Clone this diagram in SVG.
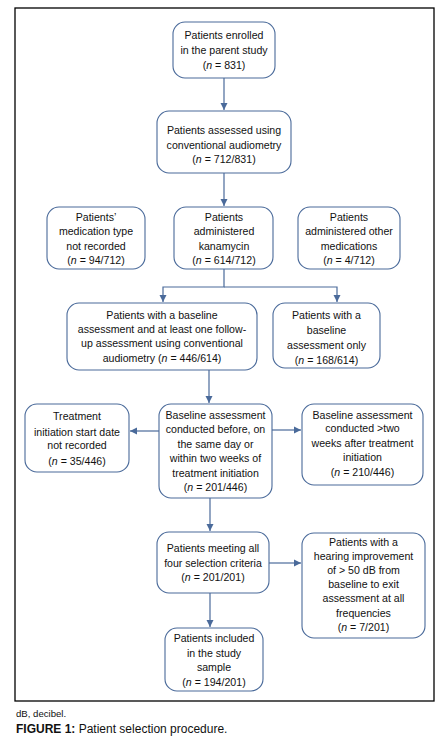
<svg xmlns="http://www.w3.org/2000/svg" width="448" height="744" viewBox="0 0 448 744">
<style>
.b{fill:#fff;stroke:#4a6a9a;stroke-width:1.1}
.t{font-family:"Liberation Sans",Arial,sans-serif;font-size:10.6px;fill:#111;text-anchor:middle}
.c{stroke:#4a6a9a;stroke-width:1.2;fill:none}
.cap{font-family:"Liberation Sans",Arial,sans-serif;fill:#111}
</style>
<defs>
<marker id="a" markerWidth="8" markerHeight="8" refX="7" refY="4" orient="auto" markerUnits="userSpaceOnUse">
<path d="M0,0.5 L7,4 L0,7.5 Z" fill="#4a6a9a"/>
</marker>
</defs>
<rect x="15" y="8" width="419" height="693" fill="none" stroke="#000" stroke-width="1.3"/>
<g id="connectors">
<line class="c" x1="224" y1="78" x2="224" y2="110" marker-end="url(#a)"/>
<line class="c" x1="224" y1="173" x2="224" y2="206" marker-end="url(#a)"/>
<polyline class="c" points="224,269 224,287 163,287 163,302" marker-end="url(#a)"/>
<polyline class="c" points="224,287 337,287 337,302" marker-end="url(#a)"/>
<line class="c" x1="209" y1="370" x2="209" y2="403" marker-end="url(#a)"/>
<line class="c" x1="159" y1="431" x2="130" y2="431" marker-end="url(#a)"/>
<line class="c" x1="272" y1="430" x2="301" y2="430" marker-end="url(#a)"/>
<line class="c" x1="210" y1="498" x2="210" y2="531" marker-end="url(#a)"/>
<line class="c" x1="269" y1="563" x2="301" y2="563" marker-end="url(#a)"/>
<line class="c" x1="210" y1="593" x2="210" y2="627" marker-end="url(#a)"/>
</g>
<g id="n1"><rect class="b" x="173" y="22" width="102" height="56" rx="12"/>
<text class="t" x="224" y="39">Patients enrolled</text><text class="t" x="224" y="54">in the parent study</text><text class="t" x="224" y="69">(<tspan font-style="italic">n</tspan> = 831)</text></g>
<g id="n2"><rect class="b" x="157" y="111" width="134" height="62" rx="12"/>
<text class="t" x="224" y="134">Patients assessed using</text><text class="t" x="224" y="149">conventional audiometry</text><text class="t" x="224" y="163">(<tspan font-style="italic">n</tspan> = 712/831)</text></g>
<g id="n3"><rect class="b" x="47" y="207" width="98" height="62" rx="12"/>
<text class="t" x="96" y="221">Patients’</text><text class="t" x="96" y="235">medication type</text><text class="t" x="96" y="250">not recorded</text><text class="t" x="96" y="264">(<tspan font-style="italic">n</tspan> = 94/712)</text></g>
<g id="n4"><rect class="b" x="174" y="207" width="99" height="62" rx="12"/>
<text class="t" x="224" y="221">Patients</text><text class="t" x="224" y="235">administered</text><text class="t" x="224" y="250">kanamycin</text><text class="t" x="224" y="264">(<tspan font-style="italic">n</tspan> = 614/712)</text></g>
<g id="n5"><rect class="b" x="298" y="207" width="102" height="62" rx="12"/>
<text class="t" x="349" y="221">Patients</text><text class="t" x="349" y="235">administered other</text><text class="t" x="349" y="250">medications</text><text class="t" x="349" y="264">(<tspan font-style="italic">n</tspan> = 4/712)</text></g>
<g id="n6"><rect class="b" x="67" y="303" width="190" height="67" rx="12"/>
<text class="t" x="162" y="319">Patients with a baseline</text><text class="t" x="162" y="333">assessment and at least one follow-</text><text class="t" x="162" y="347">up assessment using conventional</text><text class="t" x="162" y="362">audiometry (<tspan font-style="italic">n</tspan> = 446/614)</text></g>
<g id="n7"><rect class="b" x="273" y="303" width="107" height="65" rx="12"/>
<text class="t" x="326.5" y="319">Patients with a</text><text class="t" x="326.5" y="334">baseline</text><text class="t" x="326.5" y="349">assessment only</text><text class="t" x="326.5" y="364">(<tspan font-style="italic">n</tspan> = 168/614)</text></g>
<g id="n8"><rect class="b" x="25" y="404" width="104" height="68" rx="12"/>
<text class="t" x="77" y="420">Treatment</text><text class="t" x="77" y="436">initiation start date</text><text class="t" x="77" y="449">not recorded</text><text class="t" x="77" y="465">(<tspan font-style="italic">n</tspan> = 35/446)</text></g>
<g id="n9"><rect class="b" x="159" y="404" width="113" height="94" rx="12"/>
<text class="t" x="215.5" y="419">Baseline assessment</text><text class="t" x="215.5" y="433">conducted before, on</text><text class="t" x="215.5" y="448">the same day or</text><text class="t" x="215.5" y="462">within two weeks of</text><text class="t" x="215.5" y="477">treatment initiation</text><text class="t" x="215.5" y="491">(<tspan font-style="italic">n</tspan> = 201/446)</text></g>
<g id="n10"><rect class="b" x="302" y="404" width="121" height="81" rx="12"/>
<text class="t" x="362.5" y="419">Baseline assessment</text><text class="t" x="362.5" y="432">conducted &gt;two</text><text class="t" x="362.5" y="447">weeks after treatment</text><text class="t" x="362.5" y="461">initiation</text><text class="t" x="362.5" y="476">(<tspan font-style="italic">n</tspan> = 210/446)</text></g>
<g id="n11"><rect class="b" x="157" y="532" width="112" height="61" rx="12"/>
<text class="t" x="213" y="552">Patients meeting all</text><text class="t" x="213" y="567">four selection criteria</text><text class="t" x="213" y="581">(<tspan font-style="italic">n</tspan> = 201/201)</text></g>
<g id="n12"><rect class="b" x="302" y="533" width="123" height="105" rx="12"/>
<text class="t" x="363.5" y="546">Patients with a</text><text class="t" x="363.5" y="560">hearing improvement</text><text class="t" x="363.5" y="574">of &gt; 50 dB from</text><text class="t" x="363.5" y="588">baseline to exit</text><text class="t" x="363.5" y="602">assessment at all</text><text class="t" x="363.5" y="617">frequencies</text><text class="t" x="363.5" y="631">(<tspan font-style="italic">n</tspan> = 7/201)</text></g>
<g id="n13"><rect class="b" x="165" y="628" width="98" height="63" rx="12"/>
<text class="t" x="214" y="642">Patients included</text><text class="t" x="214" y="657">in the study</text><text class="t" x="214" y="671">sample</text><text class="t" x="214" y="686">(<tspan font-style="italic">n</tspan> = 194/201)</text></g>
<text class="cap" x="16" y="717" font-size="9.6">dB, decibel.</text>
<text class="cap" x="16" y="733" font-size="12"><tspan font-weight="bold">FIGURE 1:</tspan> Patient selection procedure.</text>
</svg>
